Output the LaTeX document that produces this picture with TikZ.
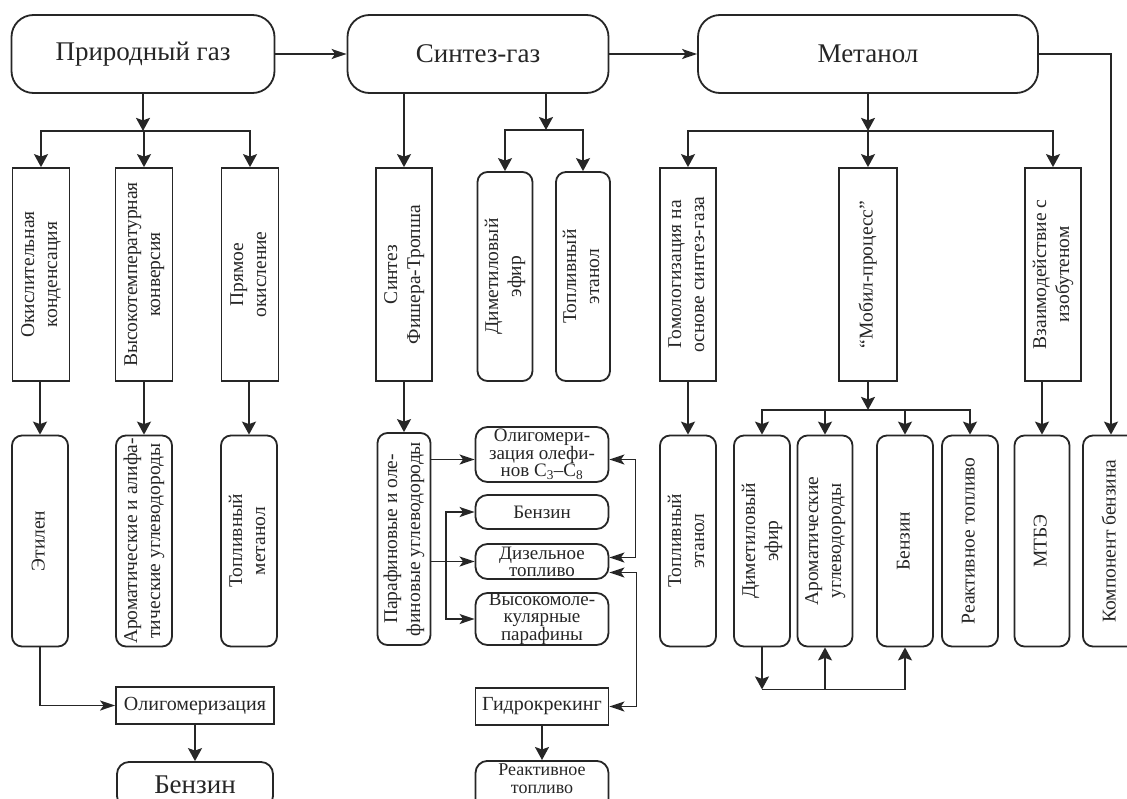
\documentclass[tikz,border=0pt]{standalone}
\usepackage{fontspec}
\setmainfont{Liberation Serif}
\usepackage{graphicx}
\usetikzlibrary{arrows.meta}
\newcommand{\vtext}[1]{\rotatebox{90}{\begin{tabular}{@{}c@{}}#1\end{tabular}}}

\begin{document}
\begin{tikzpicture}[x=1pt,y=-1pt,line width=1.8pt,color=black!85,
    main node/.style={draw,rounded corners=22pt,inner sep=0pt,minimum height=78pt,
                      font=\fontsize{27}{30}\selectfont},
    proc node/.style={draw,inner sep=0pt,minimum width=57pt,minimum height=213pt,
                      font=\fontsize{19.5}{23}\selectfont},
    prod node/.style={draw,rounded corners=10pt,inner sep=0pt,minimum width=56pt,
                      minimum height=211pt,font=\fontsize{19.5}{23}\selectfont},
    fuel node/.style={draw,rounded corners=12pt,inner sep=0pt,minimum width=133pt,
                      align=center,font=\fontsize{19}{17}\selectfont},
    stage node/.style={draw,inner sep=0pt,minimum width=158pt,minimum height=37pt,
                      font=\fontsize{20}{22}\selectfont},
    arr/.style={-{Stealth[length=13pt,width=14pt,inset=2.5pt]}},
    harr/.style={-{Stealth[length=15pt,width=10pt,inset=3.5pt]}},
    dblarr/.style={{Stealth[length=15pt,width=10pt,inset=3.5pt]}-{Stealth[length=15pt,width=10pt,inset=3.5pt]}}
   ]
   \path[use as bounding box,fill=white] (0,0) rectangle (1127,798);

   % raw materials
   \node[main node,minimum width=263pt] (gas)  at (143,54) {Природный газ};
   \node[main node,minimum width=261pt] (syn)  at (478,54) {Синтез-газ};
   \node[main node,minimum width=340pt] (meth) at (868,54) {Метанол};

   % processes
   \node[proc node] (okc) at (41,274.5)  {\vtext{Окислительная\\конденсация}};
   \node[proc node] (htc) at (144,274.5) {\vtext{Высокотемпературная\\конверсия}};
   \node[proc node] (dox) at (250,274.5) {\vtext{Прямое\\окисление}};
   \node[proc node,minimum width=56pt] (fts) at (404,274.5) {\vtext{Синтез\\Фишера-Тропша}};
   \node[prod node,minimum width=55pt,minimum height=209pt] (dme1) at (505,276.5) {\vtext{Диметиловый\\эфир}};
   \node[prod node,minimum width=54pt,minimum height=209pt] (eth1) at (583,276.5) {\vtext{Топливный\\этанол}};
   \node[proc node,minimum width=56pt] (hom) at (688,274.5)  {\vtext{Гомологизация на\\основе синтез-газа}};
   \node[proc node,minimum width=58pt] (mob) at (868,274.5)  {\vtext{``Мобил-процесс''}};
   \node[proc node,minimum width=56pt] (ibu) at (1053,274.5) {\vtext{Взаимодействие с\\изобутеном}};

   % products
   \node[prod node] (ethy) at (40,541)  {\vtext{Этилен}};
   \node[prod node] (arh)  at (144,541) {\vtext{Ароматические и алифа-\\тические углеводороды}};
   \node[prod node] (fme)  at (249,541) {\vtext{Топливный\\метанол}};
   \node[prod node,minimum width=53pt,minimum height=212pt] (pol) at (404,539) {\vtext{Парафиновые и оле-\\финовые углеводороды}};
   \node[prod node] (eth2) at (688,541) {\vtext{Топливный\\этанол}};
   \node[prod node] (dme2) at (762,541) {\vtext{Диметиловый\\эфир}};
   \node[prod node,minimum width=55pt] (aro) at (825,541) {\vtext{Ароматические\\углеводороды}};
   \node[prod node] (gas2) at (905,541) {\vtext{Бензин}};
   \node[prod node] (jet2) at (970,541) {\vtext{Реактивное топливо}};
   \node[prod node,minimum width=55pt] (mtbe) at (1042,541) {\vtext{МТБЭ}};
   \node[prod node] (comp) at (1111,541) {\vtext{Компонент бензина}};

   % Fischer-Tropsch products
   \node[fuel node,minimum height=55pt] (olig) at (542,454.5) {Олигомери-\\зация олефи-\\нов C\textsubscript{3}–C\textsubscript{8}};
   \node[fuel node,minimum height=34pt] (gas1) at (542,512)   {Бензин};
   \node[fuel node,minimum height=35pt] (dsl)  at (542,561.5) {Дизельное\\топливо};
   \node[fuel node,minimum height=52pt] (wax)  at (542,619)   {Высокомоле-\\кулярные\\парафины};
   \node[stage node,minimum width=133pt] (hcr) at (542,706.5) {Гидрокрекинг};
   \node[fuel node,anchor=north,inner ysep=3pt,text depth=16pt,
         font=\fontsize{18}{17.5}\selectfont] (jet1) at (542,760) {Реактивное\\топливо};

   \node[stage node] (olgm) at (195,705.5) {Олигомеризация};
   \node[main node,rounded corners=12pt,minimum width=156pt,minimum height=46pt] (gas0) at (195,785) {Бензин};

   % top row
   \draw[harr] (gas.east) -- (syn.west);
   \draw[harr] (syn.east) -- (meth.west);
   \draw[arr] (meth.east) -| (comp.north);

   \coordinate (b1) at ([yshift=-37pt]gas.south);
   \draw[arr] (gas.south) -- (b1);
   \draw[arr] (b1) -| (okc.north);
   \draw[arr] (b1) -| (htc.north);
   \draw[arr] (b1) -| (dox.north);

   \coordinate (b2) at (546,130);
   \draw[arr] (b2 |- syn.south) -- (b2);
   \draw[arr] (b2) -| (dme1.north);
   \draw[arr] (b2) -| (eth1.north);
   \draw[arr] (syn.south -| fts.north) -- (fts.north);

   \coordinate (b3) at ([yshift=-37pt]meth.south);
   \draw[arr] (meth.south) -- (b3);
   \draw[arr] (b3) -| (hom.north);
   \draw[arr] (b3) -- (mob.north);
   \draw[arr] (b3) -| (ibu.north);

   % processes to products
   \draw[arr] (okc.south -| ethy.north) -- (ethy.north);
   \draw[arr] (htc.south) -- (arh.north);
   \draw[arr] (dox.south -| fme.north) -- (fme.north);
   \draw[arr] (fts.south) -- (pol.north);
   \draw[arr] (hom.south) -- (eth2.north);
   \draw[arr] (ibu.south -| mtbe.north) -- (mtbe.north);

   \coordinate (b4) at ([yshift=-28pt]mob.south);
   \draw[arr] (mob.south) -- (b4);
   \draw[arr] (b4) -| (dme2.north);
   \draw[arr] (b4) -| (aro.north);
   \draw[arr] (b4) -| (gas2.north);
   \draw[arr] (b4) -| (jet2.north);

   \coordinate (b5) at ([yshift=-42pt]dme2.south);
   \draw[arr] (dme2.south) -- (b5);
   \draw[arr] (b5) -| (aro.south);
   \draw[arr] (b5) -| (gas2.south);

   % ethylene
   \draw[harr] (ethy.south) |- (olgm.west);
   \draw[arr] (olgm.south) -- (gas0.north);

   % Fischer-Tropsch
   \coordinate (j1) at (446,561.5);
   \coordinate (o1) at ([yshift=-5pt]olig.west);
   \draw[harr] (o1 -| pol.east) -- (o1);
   \draw[harr] (pol.east |- dsl.west) -- (dsl.west);
   \draw[harr] (j1) |- (gas1.west);
   \draw[harr] (j1) |- (wax.west);
   \draw[dblarr] ([yshift=-5pt]olig.east) -- ++(26,0) |- ([yshift=4pt]dsl.east);
   \draw[dblarr] ([yshift=-11pt]dsl.east) -- ++(27,0) |- (hcr.east);
   \draw[arr] (hcr.south) -- (jet1.north);
\end{tikzpicture}
\end{document}
